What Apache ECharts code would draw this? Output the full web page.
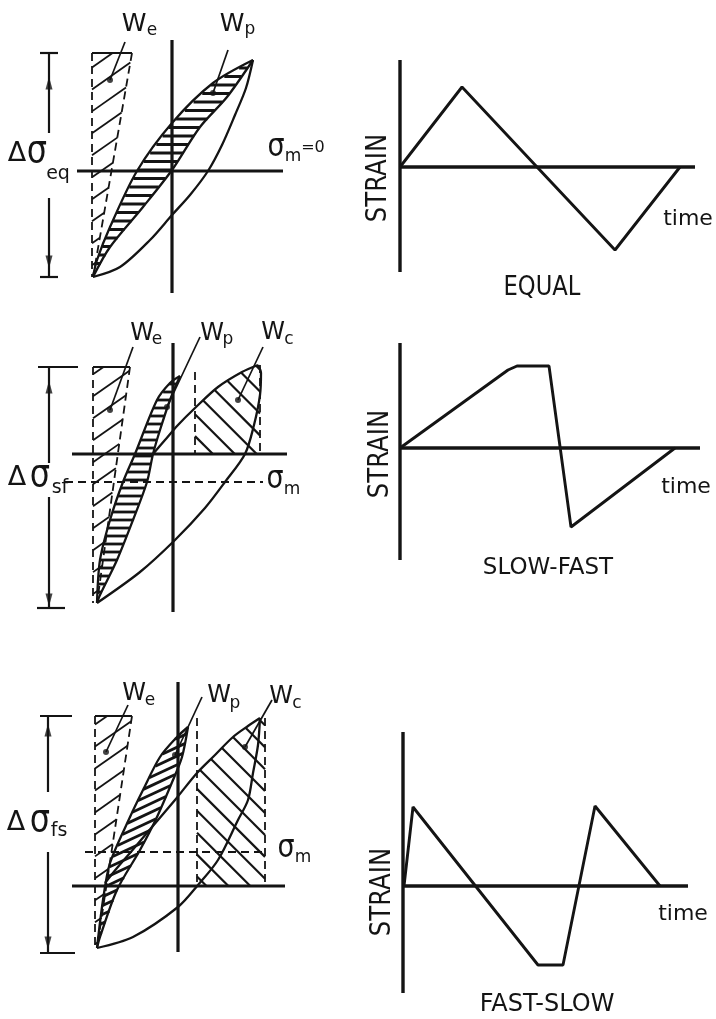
<!DOCTYPE html>
<html>
<head>
<meta charset="utf-8">
<script src="https://cdn.jsdelivr.net/npm/echarts@6/dist/echarts.min.js"></script>
<style>
  html, body { margin: 0; padding: 0; background: #fff; }
  #chart { width: 716px; height: 1019px; }
</style>
</head>
<body>
<div id="chart"></div>
<script>
// ---------- EQUAL cycle: stress (y) vs strain (x) ----------
const eqUpper   = [[-7.9,-10.6],[-7.5,-8.9],[-6.2,-5.6],[-3.5,0],[0,4.8],[4.1,8.8],[8.1,11.1]];
const eqChord   = [[-7.9,-10.6],[-6.2,-7.6],[-2.9,-3.6],[0,0.1],[2.8,4.4],[5.5,7.4],[8.1,11.1]];
const eqLower   = [[-7.9,-10.6],[-5.2,-9.6],[-2.2,-6.9],[0,-4.4],[1.8,-2.4],[3.6,0],[5.0,2.6],[6.3,5.6],[7.4,8.3],[8.1,11.1]];
const eqElastic = [[-8.0,11.8],[-4.0,11.8],[-7.9,-10.6],[-8.0,-10.6]];
const eqRange   = [11.8, -10.6];
const eqLeaders = { We: [[-4.7,12.9],[-6.2,9.1]], Wp: [[5.6,12.1],[4.1,7.8]] };

// ---------- SLOW-FAST cycle ----------
const sfLensLeft  = [[-7.6,-14.9],[-7.3,-10.6],[-6.3,-6.6],[-5.0,-2.8],[-3.8,0],[-1.6,5.4],[-0.3,7.1],[0.7,7.8]];
const sfLensRight = [[-7.6,-14.9],[-7.3,-14.1],[-5.6,-10.6],[-4.0,-6.6],[-2.6,-2.8],[-2.0,0],[-1.3,2.4],[-0.3,5.4],[0.7,7.8]];
const sfUpper     = [[-2.0,0],[-0.8,1.4],[0.5,2.9],[2.2,4.6],[4.5,6.7],[6.9,8.2],[8.5,8.9]];
const sfLower     = [[-7.6,-14.9],[-3.3,-11.8],[0.2,-8.6],[3.2,-5.4],[5.2,-2.8],[7.2,0],[8.1,2.9],[8.7,5.9],[8.8,8.1],[8.5,8.9]];
const sfElastic   = [[-8.0,8.7],[-4.3,8.7],[-7.6,-14.9],[-8.0,-14.9]];
const sfCreep     = [[2.2,0],[8.7,0],[8.7,8.9],[8.5,8.9],[6.9,8.2],[4.5,6.7],[2.2,4.6]];
const sfCreepEdges = [2.2, 8.7];
const sfMean      = -2.8;
const sfRange     = [8.7, -15.4];
const sfLeaders = { We: [[-4.0,10.7],[-6.3,4.4]], Wp: [[2.7,11.7],[-0.6,4.7]], Wc: [[9.0,10.7],[6.5,5.4]] };

// ---------- FAST-SLOW cycle ----------
const fsLensLeft  = [[-8.1,-6.2],[-7.5,-1.4],[-6.8,2.3],[-4.8,6.9],[-3.5,9.6],[-1.8,12.9],[-0.1,14.9],[1.0,15.9]];
const fsLensRight = [[-8.1,-6.2],[-7.8,-5.1],[-6.1,-0.4],[-3.8,3.6],[-2.1,6.9],[-0.5,10.6],[0.4,12.9],[1.0,15.9]];
const fsUpper     = [[-7.3,0.3],[-6.1,1.8],[-4.8,3.3],[-2.6,5.9],[-0.3,8.6],[1.9,11.3],[3.7,13.1],[5.5,14.9],[7.0,16.0],[8.2,16.8]];
const fsLower     = [[-8.1,-6.2],[-4.5,-5.1],[0,-2.1],[2.0,0.1],[4.0,2.6],[6.0,6.6],[7.0,8.6],[7.5,11.3],[8.0,14.1],[8.2,16.8]];
const fsElastic   = [[-8.3,17.0],[-4.6,17.0],[-8.1,-6.2],[-8.3,-6.2]];
const fsCreep     = [[1.9,0],[8.7,0],[8.7,16.8],[8.2,16.8],[7.0,16.0],[5.5,14.9],[3.7,13.1],[1.9,11.3]];
const fsCreepEdges = [1.9, 8.7];
const fsMean      = 3.4;
const fsRange     = [17.0, -6.7];
const fsLeaders = { We: [[-5.0,18.1],[-7.2,13.4]], Wp: [[2.4,18.9],[-0.3,13.1]], Wc: [[9.4,18.6],[6.7,13.9]] };

// ---------- strain histories: [time, strain] ----------
const eqWave = [[0,0],[6.2,8.0],[13.7,0],[21.5,-8.3],[28.0,0]];
const sfWave = [[0,0],[10.8,7.8],[11.7,8.2],[14.9,8.2],[17.1,-7.9],[27.5,0]];
const fsWave = [[0.1,0],[1.0,7.9],[13.5,-7.9],[16.0,-7.9],[19.2,8.0],[25.7,0]];

// ---------- text ----------
const waveTitles = ['EQUAL', 'SLOW-FAST', 'FAST-SLOW'];
const strainLabel = 'STRAIN';
const timeLabel = 'time';

// ===================================================================
const INK = '#141414';
const FONT = '"DejaVu Sans", "Liberation Sans", sans-serif';
const PX = 10; // pixels per data unit on every panel

// panel frames: pixel box and pixel position of the axis crossing
const panels = [
  { box: [0, 0, 350, 310],    origin: [172, 171] },
  { box: [0, 310, 350, 330],  origin: [173, 454] },
  { box: [0, 640, 350, 379],  origin: [178, 886] },
  { box: [360, 0, 356, 310],  origin: [400, 167] },
  { box: [360, 310, 356, 330], origin: [400, 448] },
  { box: [360, 640, 356, 379], origin: [403, 886] }
];

const grids = [], xAxes = [], yAxes = [];
panels.forEach((p, i) => {
  const [l, t, w, h] = p.box, [ox, oy] = p.origin;
  grids.push({ left: l, top: t, width: w, height: h, containLabel: false });
  xAxes.push({ type: 'value', gridIndex: i, show: false, min: (l - ox) / PX, max: (l + w - ox) / PX });
  yAxes.push({ type: 'value', gridIndex: i, show: false, min: (oy - (t + h)) / PX, max: (oy - t) / PX });
});

function path(gi, data, o = {}) {
  return {
    type: 'line', xAxisIndex: gi, yAxisIndex: gi, data, symbol: 'none', clip: false,
    silent: true, z: o.z || 3, smooth: o.smooth || false,
    lineStyle: { color: INK, width: o.w || 2.3, type: o.dash ? [8, 5] : 'solid', cap: 'butt' }
  };
}

// parallel hatch lines clipped to a polygon (pixel space)
function hatchSegments(pts, angDeg, gap) {
  const a = angDeg * Math.PI / 180, c = Math.cos(a), s = Math.sin(a);
  const r = pts.map(([x, y]) => [x * c + y * s, -x * s + y * c]);
  const vs = r.map(p => p[1]);
  const vmin = Math.min(...vs), vmax = Math.max(...vs);
  const out = [];
  for (let v = Math.ceil(vmin / gap) * gap; v <= vmax; v += gap) {
    const xs = [];
    for (let i = 0; i < r.length; i++) {
      const p = r[i], q = r[(i + 1) % r.length];
      if ((p[1] <= v && q[1] > v) || (q[1] <= v && p[1] > v)) {
        xs.push(p[0] + (v - p[1]) * (q[0] - p[0]) / (q[1] - p[1]));
      }
    }
    xs.sort((m, n) => m - n);
    for (let k = 0; k + 1 < xs.length; k += 2) out.push([[xs[k], v], [xs[k + 1], v]]);
  }
  return out.map(seg => seg.map(([u, v]) => [u * c - v * s, u * s + v * c]));
}

function hatch(gi, poly, ang, gap, w) {
  return {
    type: 'custom', xAxisIndex: gi, yAxisIndex: gi, coordinateSystem: 'cartesian2d',
    data: [[0, 0]], silent: true, z: 1,
    renderItem: (params, api) => {
      const pts = poly.map(p => api.coord(p));
      const segs = hatchSegments(pts, ang, gap);
      return {
        type: 'group',
        children: segs.map(sg => ({
          type: 'line',
          shape: { x1: sg[0][0], y1: sg[0][1], x2: sg[1][0], y2: sg[1][1] },
          style: { stroke: INK, lineWidth: w }
        }))
      };
    }
  };
}

function marks(gi, data, symbol, size, rot) {
  return {
    type: 'scatter', xAxisIndex: gi, yAxisIndex: gi, data, symbol, symbolSize: size,
    symbolRotate: rot || 0, clip: false, silent: true, z: 4,
    itemStyle: { color: INK }
  };
}

const series = [];

// range arrow with end ticks, broken around the label
function rangeArrow(gi, x, range, gapTop, gapBot, tickTop, tickBot, arrowUp, arrowDown) {
  series.push(path(gi, [[x, range[0]], [x, gapTop]], { w: 2.2 }));
  series.push(path(gi, [[x, gapBot], [x, range[1]]], { w: 2.2 }));
  series.push(path(gi, [[tickTop[0], range[0]], [tickTop[1], range[0]]], { w: 2.2 }));
  series.push(path(gi, [[tickBot[0], range[1]], [tickBot[1], range[1]]], { w: 2.2 }));
  series.push(marks(gi, [[x, arrowUp]], 'triangle', [7, 13], 0));
  series.push(marks(gi, [[x, arrowDown]], 'triangle', [7, 13], 180));
}

function elasticBox(gi, box) {
  series.push(hatch(gi, box, -35, 18, 1.8));
  series.push(path(gi, [box[0], box[1]], { w: 1.8 }));
  series.push(path(gi, [box[0], box[3]], { w: 1.8, dash: true }));
  series.push(path(gi, [box[1], box[2]], { w: 1.8, dash: true }));
}

function leaders(gi, obj) {
  Object.values(obj).forEach(seg => {
    series.push(path(gi, seg, { w: 1.7 }));
    series.push(marks(gi, [seg[1]], 'circle', 6));
  });
}

// ----- panel 0: EQUAL loop -----
series.push(path(0, [[0, 13.1], [0, -12.2]], { w: 3.2 }));
series.push(path(0, [[-9.5, 0], [11.1, 0]], { w: 3.2 }));
elasticBox(0, eqElastic);
series.push(hatch(0, eqUpper.concat(eqChord.slice().reverse()), 0, 8.5, 3));
series.push(path(0, eqUpper, { smooth: 0.3 }));
series.push(path(0, eqChord, { smooth: 0.3 }));
series.push(path(0, eqLower, { smooth: 0.3 }));
rangeArrow(0, -12.3, eqRange, 3.8, -2.7, [-13.2, -11.4], [-13.2, -11.4], 8.8, -9.1);
leaders(0, eqLeaders);

// ----- panel 1: SLOW-FAST loop -----
series.push(path(1, [[0, 11.1], [0, -15.8]], { w: 3.2 }));
series.push(path(1, [[-10.1, 0], [11.4, 0]], { w: 3.2 }));
series.push(path(1, [[-10.8, sfMean], [9.0, sfMean]], { w: 1.8, dash: true }));
elasticBox(1, sfElastic);
series.push(hatch(1, sfLensLeft.concat(sfLensRight.slice().reverse()), 0, 8, 2.8));
series.push(hatch(1, sfCreep, 45, 15.5, 2.2));
series.push(path(1, [[sfCreepEdges[0], 8.2], [sfCreepEdges[0], 0]], { w: 1.8, dash: true }));
series.push(path(1, [[sfCreepEdges[1], 8.9], [sfCreepEdges[1], 0]], { w: 1.8, dash: true }));
series.push(path(1, sfLensLeft, { smooth: 0.3 }));
series.push(path(1, sfLensRight, { smooth: 0.3 }));
series.push(path(1, sfUpper, { smooth: 0.3 }));
series.push(path(1, sfLower, { smooth: 0.3 }));
rangeArrow(1, -12.4, sfRange, -0.9, -4.3, [-13.5, -9.5], [-13.6, -10.8], 6.7, -14.6);
leaders(1, sfLeaders);

// ----- panel 2: FAST-SLOW loop -----
series.push(path(2, [[0, 20.4], [0, -6.6]], { w: 3.2 }));
series.push(path(2, [[-10.6, 0], [10.7, 0]], { w: 3.2 }));
series.push(path(2, [[-9.3, fsMean], [8.9, fsMean]], { w: 1.8, dash: true }));
elasticBox(2, fsElastic);
series.push(hatch(2, fsLensLeft.concat(fsLensRight.slice().reverse()), -25, 8, 2.8));
series.push(hatch(2, fsCreep, 45, 15.5, 2.2));
series.push(path(2, [[fsCreepEdges[0], 16.8], [fsCreepEdges[0], 0]], { w: 1.8, dash: true }));
series.push(path(2, [[fsCreepEdges[1], 16.8], [fsCreepEdges[1], 0]], { w: 1.8, dash: true }));
series.push(path(2, fsLensLeft, { smooth: 0.3 }));
series.push(path(2, fsLensRight, { smooth: 0.3 }));
series.push(path(2, fsUpper, { smooth: 0.3 }));
series.push(path(2, fsLower, { smooth: 0.3 }));
rangeArrow(2, -13.0, fsRange, 9.4, 3.4, [-13.8, -10.6], [-13.8, -10.3], 15.6, -5.7);
leaders(2, fsLeaders);

// ----- strain histories -----
[[3, eqWave, [10.7, -10.5], 29.5], [4, sfWave, [10.5, -11.2], 30.0], [5, fsWave, [15.4, -10.7], 28.5]]
  .forEach(([gi, wave, vr, tEnd]) => {
    series.push(path(gi, [[0, vr[0]], [0, vr[1]]], { w: 3.4 }));
    series.push(path(gi, [[0, 0], [tEnd, 0]], { w: 3.4 }));
    series.push(path(gi, wave, { w: 2.9 }));
  });

// ----- text -----
function txt(x, y, s, size, o = {}) {
  return {
    type: 'text', x, y, rotation: o.rot || 0, scaleX: o.sx || 1, scaleY: o.sy || 1,
    silent: true, z: 10,
    style: { text: s, fill: INK, font: `${size}px ${FONT}`,
             align: 'center', verticalAlign: 'middle', textAlign: 'center', textVerticalAlign: 'middle' }
  };
}
const graphic = [
  // panel 0
  txt(134, 24, 'W', 25), txt(152, 31, 'e', 17),
  txt(232, 24, 'W', 25), txt(250, 30, 'p', 17),
  txt(17, 154, 'Δ', 27), txt(37, 152, 'σ', 32, { sy: 1.15 }), txt(58, 174, 'eq', 19),
  txt(276, 148, 'σ', 27, { sy: 1.15 }), txt(293, 157, 'm', 17), txt(313, 148, '=0', 16),
  // panel 1
  txt(142, 334, 'W', 24), txt(157, 340, 'e', 17),
  txt(212, 334, 'W', 24), txt(228, 340, 'p', 17),
  txt(273, 333, 'W', 24), txt(289, 340, 'c', 17),
  txt(17, 478, 'Δ', 27), txt(40, 476, 'σ', 32, { sy: 1.15 }), txt(60, 488, 'sf', 19),
  txt(275, 480, 'σ', 27, { sy: 1.15 }), txt(292, 490, 'm', 17),
  // panel 2
  txt(134, 694, 'W', 24), txt(150, 701, 'e', 17),
  txt(219, 696, 'W', 24), txt(235, 704, 'p', 17),
  txt(281, 697, 'W', 24), txt(297, 704, 'c', 17),
  txt(16, 823, 'Δ', 27), txt(40, 821, 'σ', 32, { sy: 1.15 }), txt(59, 831, 'fs', 19),
  txt(286, 849, 'σ', 27, { sy: 1.15 }), txt(303, 858, 'm', 17),
  // strain histories
  txt(379, 178, strainLabel, 28, { rot: Math.PI / 2, sx: 0.87 }),
  txt(381, 454, strainLabel, 28, { rot: Math.PI / 2, sx: 0.87 }),
  txt(383, 892, strainLabel, 28, { rot: Math.PI / 2, sx: 0.87 }),
  txt(688, 219, timeLabel, 22), txt(686, 487, timeLabel, 22), txt(683, 914, timeLabel, 22),
  txt(542, 288, waveTitles[0], 27, { sx: 0.84 }),
  txt(548, 568, waveTitles[1], 23),
  txt(547, 1005, waveTitles[2], 24)
];

const chart = echarts.init(document.getElementById('chart'), null, { renderer: 'canvas' });
chart.setOption({
  animation: false,
  backgroundColor: '#fff',
  grid: grids,
  xAxis: xAxes,
  yAxis: yAxes,
  series,
  graphic
});
</script>
</body>
</html>
